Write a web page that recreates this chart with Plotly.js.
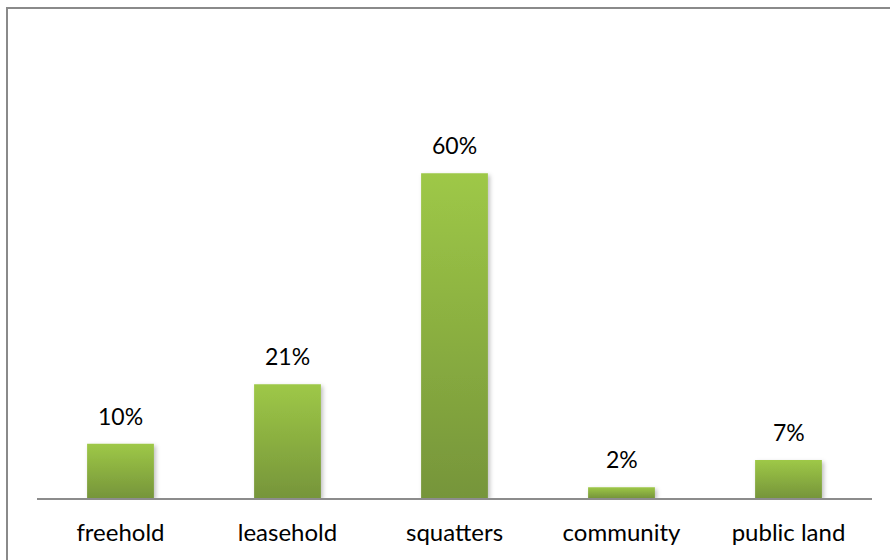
<!DOCTYPE html>
<html>
<head>
<meta charset="utf-8">
<script src="https://cdn.plot.ly/plotly-3.0.1.min.js"></script>
<style>
  html, body { margin: 0; padding: 0; background: #fff; }
  #wrap { position: relative; width: 890px; height: 560px; overflow: hidden; }
  #chart { position: absolute; left: 0; top: 0; width: 890px; height: 560px; }
  #frame { position: absolute; left: 6px; top: 7px; width: 900px; height: 600px;
           border-left: 2px solid #8a8a8a; border-top: 2px solid #8a8a8a; pointer-events: none; }
</style>
</head>
<body>
<div id="wrap">
  <div id="chart"></div>
  <div id="frame"></div>
</div>
<script>
const categories = ["freehold", "leasehold", "squatters", "community", "public land"];
const values = [10, 21, 60, 2, 7];
const valueLabels = ["10%", "21%", "60%", "2%", "7%"];

const FONT = "Lato, 'Open Sans', sans-serif";

const trace = {
  type: "bar",
  x: categories,
  y: values,
  marker: { color: "#8aae41", line: { width: 0 } },
  hoverinfo: "none"
};

const annotations = categories.map((c, i) => ({
  x: c, y: values[i], xref: "x", yref: "y",
  text: valueLabels[i], showarrow: false,
  yanchor: "bottom", yshift: 12,
  font: { family: FONT, size: 23, color: "#000" }
}));

const layout = {
  width: 890, height: 560,
  margin: { l: 37, r: 18, t: 119, b: 62, pad: 0 },
  paper_bgcolor: "#fff", plot_bgcolor: "#fff",
  bargap: 0.6,
  showlegend: false,
  xaxis: {
    showline: true, linecolor: "#8c8c8c", linewidth: 2,
    ticks: "", showgrid: false, zeroline: false,
    ticklabelstandoff: 12,
    tickfont: { family: FONT, size: 24, color: "#000" }
  },
  yaxis: {
    range: [0, 70], visible: false, showgrid: false, zeroline: false
  },
  annotations: annotations
};

Plotly.newPlot("chart", [trace], layout, { staticPlot: true, displayModeBar: false }).then(gd => {
  const svg = gd.querySelector("svg.main-svg");
  const ns = "http://www.w3.org/2000/svg";
  let defs = svg.querySelector("defs");
  if (!defs) { defs = document.createElementNS(ns, "defs"); svg.insertBefore(defs, svg.firstChild); }
  const grad = document.createElementNS(ns, "linearGradient");
  grad.setAttribute("id", "barGrad");
  grad.setAttribute("x1", "0"); grad.setAttribute("y1", "0");
  grad.setAttribute("x2", "0"); grad.setAttribute("y2", "1");
  [["0", "#9ec847"], ["1", "#76953a"]].forEach(([o, c]) => {
    const s = document.createElementNS(ns, "stop");
    s.setAttribute("offset", o); s.setAttribute("stop-color", c);
    grad.appendChild(s);
  });
  defs.appendChild(grad);
  const filt = document.createElementNS(ns, "filter");
  filt.setAttribute("id", "barShadow");
  filt.setAttribute("x", "-20%"); filt.setAttribute("y", "-20%");
  filt.setAttribute("width", "140%"); filt.setAttribute("height", "140%");
  const fe = document.createElementNS(ns, "feDropShadow");
  fe.setAttribute("dx", "2"); fe.setAttribute("dy", "2");
  fe.setAttribute("stdDeviation", "2"); fe.setAttribute("flood-color", "#000");
  fe.setAttribute("flood-opacity", "0.25");
  filt.appendChild(fe);
  defs.appendChild(filt);
  gd.querySelectorAll(".trace.bars .point path").forEach(p => {
    p.style.fill = "url(#barGrad)";
    p.setAttribute("filter", "url(#barShadow)");
  });
});
</script>
</body>
</html>
